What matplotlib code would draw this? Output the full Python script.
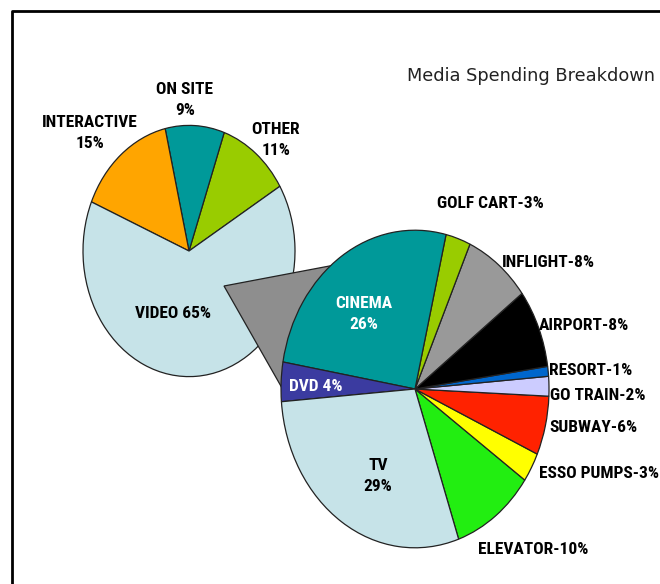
import matplotlib
matplotlib.use("Agg")
import matplotlib.pyplot as plt
from matplotlib import font_manager
from matplotlib.patches import Polygon

# left pie: media mix
left_labels = ["OTHER", "ON SITE", "INTERACTIVE", "VIDEO"]
left_values = [11, 9, 15, 65]
left_colors = ["#99cc00", "#009999", "#ffa500", "#c6e3e8"]

# right pie: breakdown of video spending
right_labels = ["ELEVATOR", "ESSO PUMPS", "SUBWAY", "GO TRAIN", "RESORT",
                "AIRPORT", "INFLIGHT", "GOLF CART", "CINEMA", "DVD", "TV"]
right_values = [10, 3, 6, 2, 1, 8, 8, 3, 26, 4, 29]
right_colors = ["#22ee11", "#ffff00", "#ff2200", "#ccccff", "#0066cc",
                "#000000", "#999999", "#99cc00", "#009999", "#3b3ba0", "#c6e3e8"]

title = "Media Spending Breakdown"

W, H = 660, 584
K = 1.185  # vertical stretch of the pies


def px(x, y):
    # pixel position -> data position
    return x, (H - y) / K


# condensed bold font if there is one, else a smaller plain one
avail = {f.name for f in font_manager.fontManager.ttflist}
lab_font, lab_size = "Liberation Sans", 10.3
for name in ["Liberation Sans Narrow", "Roboto Condensed", "Arial Narrow"]:
    if name in avail:
        lab_font, lab_size = name, 12.5
        break
lab = dict(family=[lab_font, "DejaVu Sans"], fontweight="bold", fontsize=lab_size,
           linespacing=1.5)

fig = plt.figure(figsize=(W / 100, H / 100), dpi=100)
ax = fig.add_axes([0, 0, 1, 1])

ax.pie(left_values, colors=left_colors, startangle=31, counterclock=True,
       center=px(189, 251), radius=106,
       wedgeprops=dict(edgecolor="#222222", linewidth=0.9, zorder=1))

# connector between the two pies
poly = Polygon([px(224, 286), px(340, 264), px(282, 388)], closed=True,
               facecolor="#8e8e8e", edgecolor="#222222", linewidth=0.9, zorder=2)
ax.add_patch(poly)

wedges, _ = ax.pie(right_values, colors=right_colors, startangle=-71,
                   counterclock=True, center=px(415, 389), radius=134,
                   wedgeprops=dict(edgecolor="#222222", linewidth=0.9))
for w in wedges:
    w.set_zorder(3)

ax.set_aspect("auto")
ax.set_xlim(0, W)
ax.set_ylim(0, H / K)
ax.axis("off")

# frame
ax.plot([12, 12, W + 5], [px(0, H + 5)[1], px(0, 11)[1], px(0, 11)[1]],
        color="black", linewidth=2, zorder=5, clip_on=False)

# left pie labels
ax.text(*px(185, 100), "ON SITE\n9%", ha="center", va="center", **lab)
ax.text(*px(90, 133), "INTERACTIVE\n15%", ha="center", va="center", **lab)
ax.text(*px(276, 140), "OTHER\n11%", ha="center", va="center", **lab)
ax.text(*px(173, 313), "VIDEO 65%", ha="center", va="center", zorder=4, **lab)

# right pie labels
ax.text(*px(364, 314), "CINEMA\n26%", ha="center", va="center", color="white",
        zorder=4, **lab)
ax.text(*px(316, 386), "DVD 4%", ha="center", va="center", color="white",
        zorder=4, **lab)
ax.text(*px(378, 476), "TV\n29%", ha="center", va="center", zorder=4, **lab)
ax.text(*px(490, 203), "GOLF CART-3%", ha="center", va="center", **lab)
ax.text(*px(548, 262), "INFLIGHT-8%", ha="center", va="center", **lab)
ax.text(*px(539, 325), "AIRPORT-8%", ha="left", va="center", zorder=4, **lab)
ax.text(*px(549, 370), "RESORT-1%", ha="left", va="center", **lab)
ax.text(*px(550, 396), "GO TRAIN-2%", ha="left", va="center", **lab)
ax.text(*px(549, 427), "SUBWAY-6%", ha="left", va="center", **lab)
ax.text(*px(539, 473), "ESSO PUMPS-3%", ha="left", va="center", **lab)
ax.text(*px(478, 550), "ELEVATOR-10%", ha="left", va="center", **lab)

ax.text(*px(655, 76), title, ha="right", va="center", fontsize=12.8,
        color="#222222", family="DejaVu Sans")

fig.savefig("out.png", dpi=100)
